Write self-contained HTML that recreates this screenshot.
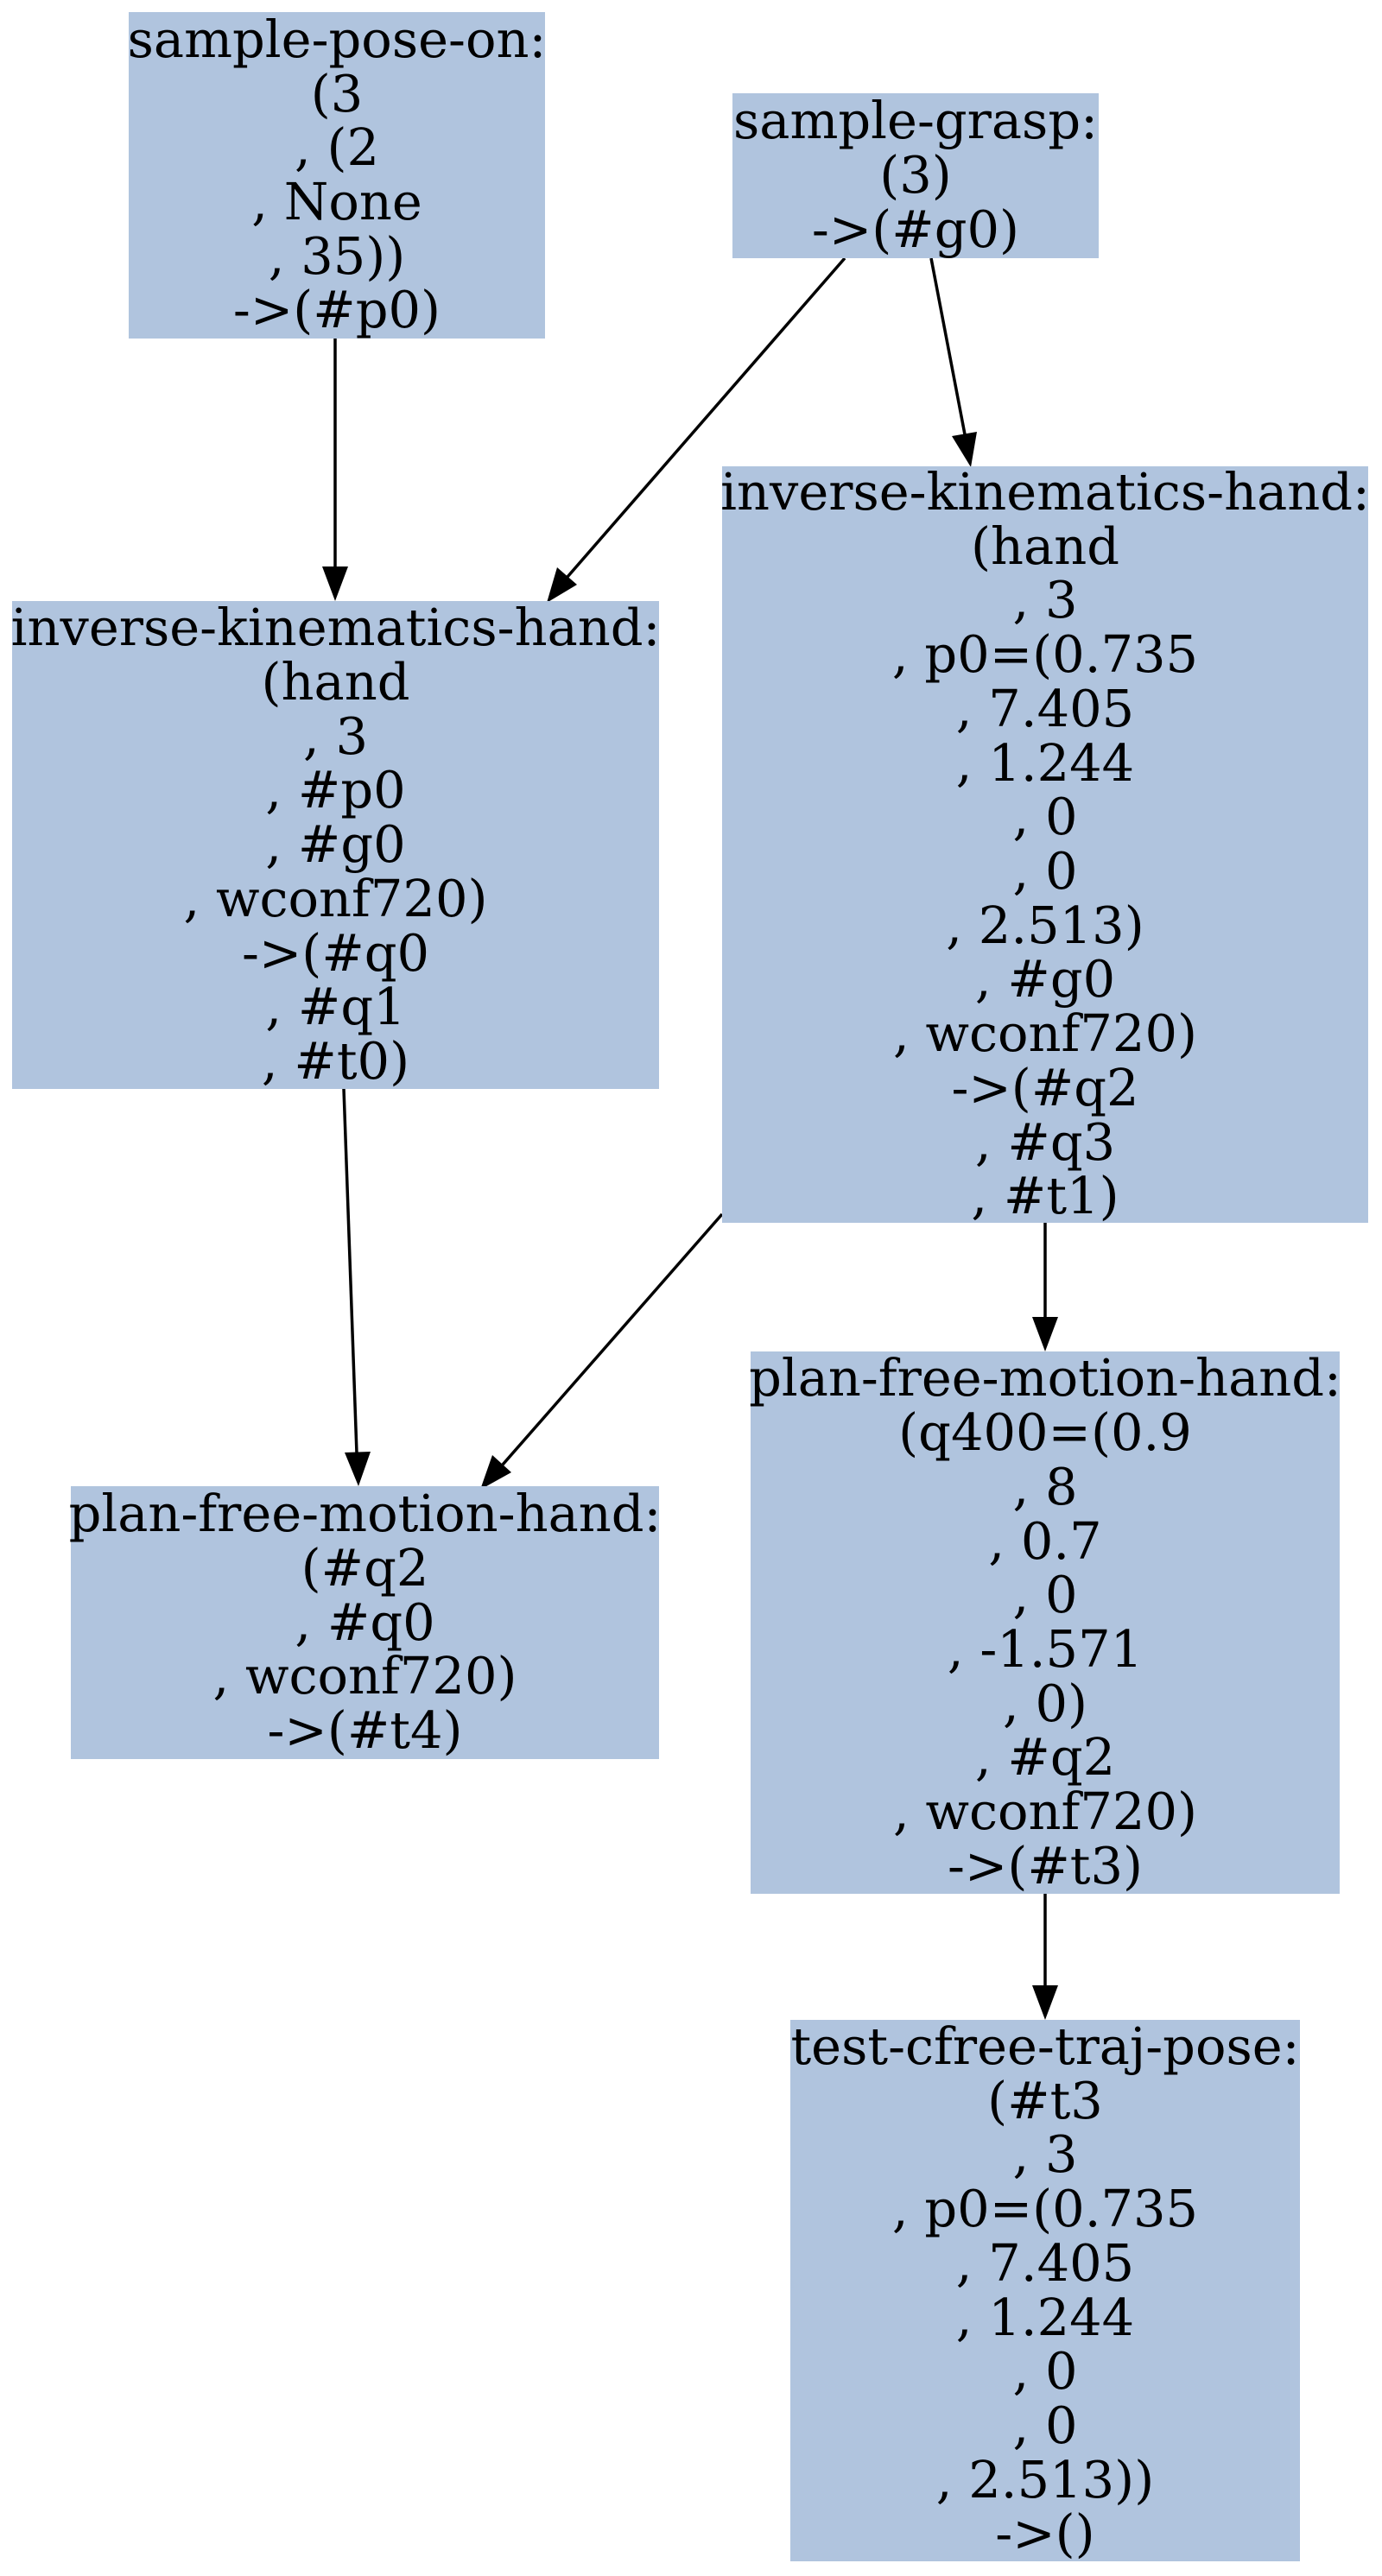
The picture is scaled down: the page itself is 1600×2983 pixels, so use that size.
<!DOCTYPE html>
<html><head><meta charset="utf-8"><style>
html,body{margin:0;padding:0;background:#fff;}
body{width:1600px;height:2983px;position:relative;overflow:hidden;font-family:"DejaVu Serif","Liberation Serif",serif;}
.b{position:absolute;background:#b0c4de;display:flex;align-items:center;justify-content:center;text-align:center;font-size:59px;line-height:62.7px;white-space:pre;color:#000;}
svg{position:absolute;left:0;top:0;}
</style></head><body>
<svg width="1600" height="2983">
<g stroke="#000" stroke-width="3.5" fill="none">
<line x1="388" y1="392" x2="388" y2="658"/>
<line x1="978" y1="299" x2="657" y2="668"/>
<line x1="1078" y1="299" x2="1117" y2="503"/>
<line x1="398" y1="1261" x2="413" y2="1683"/>
<line x1="836" y1="1406" x2="582" y2="1696"/>
<line x1="1210" y1="1416" x2="1210" y2="1527"/>
<line x1="1210" y1="2193" x2="1210" y2="2301"/>
</g>
<g fill="#000">
<polygon points="388,696 373,656 403,656"/>
<polygon points="633,698 645,657 668,677"/>
<polygon points="1124,541 1102,505 1131,500"/>
<polygon points="415,1721 399,1682 429,1681"/>
<polygon points="556,1725 570,1685 592,1705"/>
<polygon points="1210,1565 1195,1525 1225,1525"/>
<polygon points="1210,2339 1195,2299 1225,2299"/>
</g>
</svg>
<div class="b" style="left:149px;top:14px;width:482px;height:378px;">sample-pose-on:
(3
, (2
, None
, 35))
-&gt;(#p0)</div>
<div class="b" style="left:848px;top:108px;width:424px;height:191px;">sample-grasp:
(3)
-&gt;(#g0)</div>
<div class="b" style="left:14px;top:696px;width:749px;height:565px;">inverse-kinematics-hand:
(hand
, 3
, #p0
, #g0
, wconf720)
-&gt;(#q0
, #q1
, #t0)</div>
<div class="b" style="left:836px;top:540px;width:748px;height:876px;">inverse-kinematics-hand:
(hand
, 3
, p0=(0.735
, 7.405
, 1.244
, 0
, 0
, 2.513)
, #g0
, wconf720)
-&gt;(#q2
, #q3
, #t1)</div>
<div class="b" style="left:82px;top:1721px;width:681px;height:316px;">plan-free-motion-hand:
(#q2
, #q0
, wconf720)
-&gt;(#t4)</div>
<div class="b" style="left:869px;top:1565px;width:682px;height:628px;">plan-free-motion-hand:
(q400=(0.9
, 8
, 0.7
, 0
, -1.571
, 0)
, #q2
, wconf720)
-&gt;(#t3)</div>
<div class="b" style="left:915px;top:2339px;width:590px;height:627px;">test-cfree-traj-pose:
(#t3
, 3
, p0=(0.735
, 7.405
, 1.244
, 0
, 0
, 2.513))
-&gt;()</div>
</body></html>
